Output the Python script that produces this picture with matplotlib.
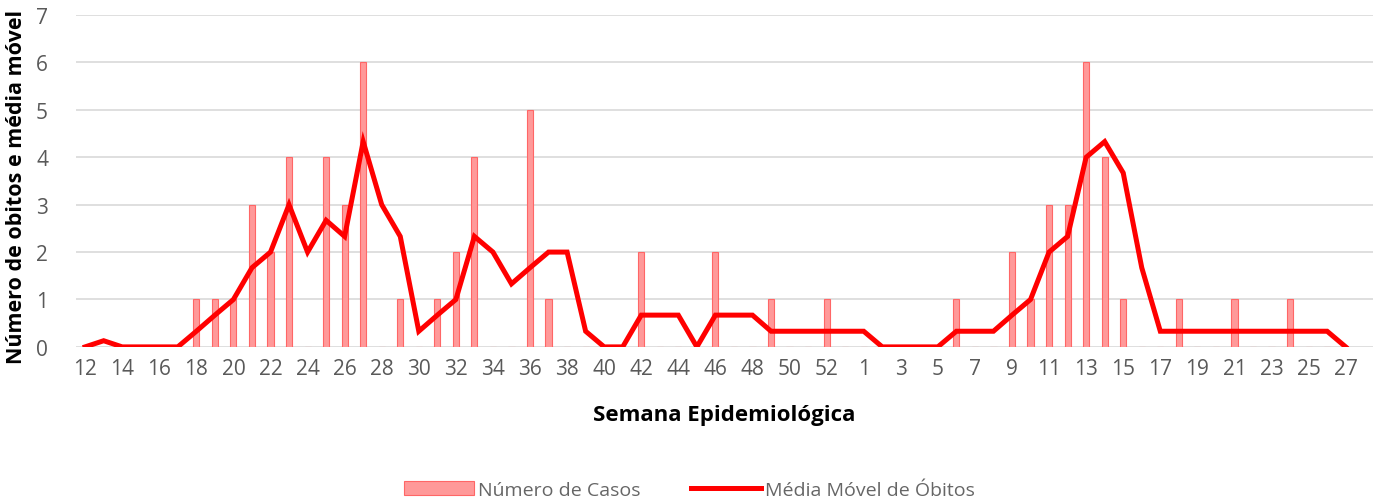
import matplotlib
matplotlib.use("Agg")
import matplotlib.pyplot as plt

plt.rcParams['font.family'] = ['Open Sans', 'DejaVu Sans']

# semanas epidemiologicas: 12..53 (2020) e 1..27 (2021)
semanas = [str(s) for s in range(12, 54)] + [str(s) for s in range(1, 28)]

casos = [0, 0, 0, 0, 0, 0, 1, 1, 1, 3, 2, 4, 0, 4, 3, 6, 0, 1, 0, 1,
         2, 4, 0, 0, 5, 1, 0, 0, 0, 0, 2, 0, 0, 0, 2, 0, 0, 1, 0, 0,
         1, 0, 0, 0, 0, 0, 0, 1, 0, 0, 2, 1, 3, 3, 6, 4, 1, 0, 0, 1,
         0, 0, 1, 0, 0, 1, 0, 0, 0]

media_movel = [0, 0.13, 0, 0, 0, 0, 0.33, 0.67, 1, 1.67, 2, 3, 2, 2.67, 2.33, 4.33, 3, 2.33, 0.33, 0.67,
               1, 2.33, 2, 1.33, 1.67, 2, 2, 0.33, 0, 0, 0.67, 0.67, 0.67, 0, 0.67, 0.67, 0.67, 0.33, 0.33, 0.33,
               0.33, 0.33, 0.33, 0, 0, 0, 0, 0.33, 0.33, 0.33, 0.67, 1, 2, 2.33, 4, 4.33, 3.67, 1.67, 0.33, 0.33,
               0.33, 0.33, 0.33, 0.33, 0.33, 0.33, 0.33, 0.33, 0]

x = list(range(len(semanas)))

fig = plt.figure(figsize=(13.79, 5.02), dpi=100)
ax = fig.add_axes([0.055, 0.307, 0.941, 0.661])

barras = ax.bar(x, casos, width=0.33, color='#FF9999', edgecolor='#FF6666', linewidth=0.8,
                label='Número de Casos', zorder=2)
linha, = ax.plot(x, media_movel, color='#FF0000', linewidth=3.6, label='Média Móvel de Óbitos',
                 zorder=3, solid_joinstyle='miter')

ax.set_xlim(-0.5, 69.5)
ax.set_ylim(0, 7)
ax.set_yticks(range(0, 8))
ax.set_xticks(x[::2])
ax.set_xticklabels(semanas[::2])
ax.yaxis.grid(True, color='#D9D9D9', linewidth=1.2, zorder=0)
ax.set_axisbelow(True)
for s in ax.spines.values():
    s.set_visible(False)
ax.tick_params(axis='both', length=0, labelsize=15, labelcolor='#595959', pad=8)
ax.tick_params(axis='y', pad=20)

ax.set_xlabel('Semana Epidemiológica', fontsize=16, fontweight='bold', labelpad=18)
ax.set_ylabel('Número de obitos e média móvel', fontsize=15.5, fontweight='bold')
ax.yaxis.set_label_coords(-0.038, 0.485)

fig.legend(handles=[barras, linha], loc='lower center', bbox_to_anchor=(0.5, -0.03), ncol=2,
           frameon=False, fontsize=14, labelcolor='#666666', handlelength=3.6,
           handletextpad=0.2, columnspacing=2.6)

fig.savefig('out.png', dpi=100)
